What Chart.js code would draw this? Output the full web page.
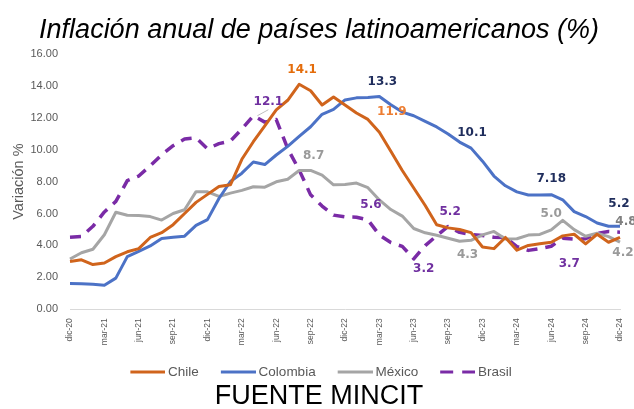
<!DOCTYPE html>
<html>
<head>
<meta charset="utf-8">
<script src="https://cdn.jsdelivr.net/npm/chart.js@4.4.1/dist/chart.umd.min.js"></script>
<style>
  html, body { margin: 0; padding: 0; background: #fff; }
  #wrap { width: 634px; height: 409px; }
</style>
</head>
<body>
<div id="wrap"><canvas id="chart" width="634" height="409"></canvas></div>
<script>
// Months (dic-20 .. dic-24)
const meses = [
  'dic-20', 'ene-21', 'feb-21', 'mar-21', 'abr-21', 'may-21', 'jun-21', 'jul-21', 'ago-21', 'sep-21', 'oct-21', 'nov-21',
  'dic-21', 'ene-22', 'feb-22', 'mar-22', 'abr-22', 'may-22', 'jun-22', 'jul-22', 'ago-22', 'sep-22', 'oct-22', 'nov-22',
  'dic-22', 'ene-23', 'feb-23', 'mar-23', 'abr-23', 'may-23', 'jun-23', 'jul-23', 'ago-23', 'sep-23', 'oct-23', 'nov-23',
  'dic-23', 'ene-24', 'feb-24', 'mar-24', 'abr-24', 'may-24', 'jun-24', 'jul-24', 'ago-24', 'sep-24', 'oct-24', 'nov-24',
  'dic-24'
];

// Annual inflation %
const chile = [
  3.0, 3.1, 2.8, 2.9, 3.3, 3.6, 3.8, 4.5, 4.8, 5.3, 6.0, 6.7,
  7.2, 7.7, 7.8, 9.4, 10.5, 11.5, 12.5, 13.1, 14.1, 13.7, 12.8, 13.3,
  12.8, 12.3, 11.9, 11.1, 9.9, 8.7, 7.6, 6.5, 5.3, 5.1, 5.0, 4.8,
  3.9, 3.8, 4.5, 3.7, 4.0, 4.1, 4.2, 4.6, 4.7, 4.1, 4.7, 4.2,
  4.5
];
const colombia = [
  1.61, 1.60, 1.56, 1.51, 1.95, 3.30, 3.63, 3.97, 4.44, 4.51, 4.58, 5.26,
  5.62, 6.94, 8.01, 8.53, 9.23, 9.07, 9.67, 10.21, 10.84, 11.44, 12.22, 12.53,
  13.12, 13.25, 13.28, 13.34, 12.82, 12.36, 12.13, 11.78, 11.43, 10.99, 10.48, 10.1,
  9.28, 8.35, 7.74, 7.36, 7.16, 7.16, 7.18, 6.86, 6.12, 5.81, 5.41, 5.20,
  5.20
];
const mexico = [
  3.15, 3.54, 3.76, 4.67, 6.08, 5.89, 5.88, 5.81, 5.59, 6.00, 6.24, 7.37,
  7.36, 7.07, 7.28, 7.45, 7.68, 7.65, 7.99, 8.15, 8.70, 8.70, 8.41, 7.80,
  7.82, 7.91, 7.62, 6.85, 6.25, 5.84, 5.06, 4.79, 4.64, 4.45, 4.26, 4.32,
  4.66, 4.88, 4.40, 4.42, 4.65, 4.69, 4.98, 5.57, 4.99, 4.58, 4.76, 4.55,
  4.21
];
const brasil = [
  4.52, 4.56, 5.20, 6.10, 6.76, 8.06, 8.35, 8.99, 9.68, 10.25, 10.67, 10.74,
  10.06, 10.38, 10.54, 11.30, 12.13, 11.73, 11.89, 10.07, 8.73, 7.17, 6.47, 5.90,
  5.79, 5.77, 5.60, 4.65, 4.18, 3.94, 3.16, 3.99, 4.61, 5.19, 4.82, 4.68,
  4.62, 4.51, 4.50, 3.93, 3.69, 3.80, 3.95, 4.45, 4.40, 4.42, 4.76, 4.87,
  4.83
];

const paises = ['Chile', 'Colombia', 'México', 'Brasil'];
const colores = ['#D0641C', '#4C72C6', '#A5A5A5', '#7A2BA6'];
const yTicks = [0, 2, 4, 6, 8, 10, 12, 14, 16];

// which points get a value label (series index, month index, decimals)
const etiquetas = [
  { s: 0, i: 20, d: 1, color: '#E46C0A', dx: 3, dy: -14 },
  { s: 0, i: 26, d: 1, color: '#ED7D31', dx: 24, dy: -8 },
  { s: 1, i: 27, d: 1, color: '#1F2D5C', dx: 3, dy: -15 },
  { s: 1, i: 35, d: 1, color: '#1F2D5C', dx: 1, dy: -15 },
  { s: 1, i: 42, d: 2, color: '#1F2D5C', dx: 0, dy: -16 },
  { s: 1, i: 48, d: 1, color: '#1F2D5C', dx: -1, dy: -22 },
  { s: 2, i: 21, d: 1, color: '#9A9A9A', dx: 3, dy: -15 },
  { s: 2, i: 34, d: 1, color: '#9A9A9A', dx: 8, dy: 14 },
  { s: 2, i: 42, d: 1, color: '#9A9A9A', dx: 0, dy: -16 },
  { s: 2, i: 48, d: 1, color: '#9A9A9A', dx: 3, dy: 11 },
  { s: 3, i: 16, d: 1, color: '#7030A0', dx: 15, dy: -14, leader: [4, 0, 15, -6] },
  { s: 3, i: 26, d: 1, color: '#7030A0', dx: 3, dy: -15 },
  { s: 3, i: 30, d: 1, color: '#7030A0', dx: 10, dy: 10 },
  { s: 3, i: 33, d: 1, color: '#7030A0', dx: 2, dy: -15 },
  { s: 3, i: 40, d: 1, color: '#7030A0', dx: 41, dy: 13 },
  { s: 3, i: 48, d: 1, color: '#808080', dx: 6, dy: -10 }
];

const FONT = '"Liberation Sans", Arial, sans-serif';
const GRIS = '#595959';

// little line samples for the legend (Brasil dashed); line sits at the right of the image
const muestras = colores.map((c, k) => {
  const cv = document.createElement('canvas');
  cv.width = 43; cv.height = 5;
  const g = cv.getContext('2d');
  g.strokeStyle = c;
  g.lineWidth = 3;
  if (k === 3) g.setLineDash([13, 9]);
  g.beginPath();
  g.moveTo(8, 2.5);
  g.lineTo(43, 2.5);
  g.stroke();
  return cv;
});

// draws the value labels next to the lines
const etiquetasPlugin = {
  id: 'etiquetas',
  afterDatasetsDraw(chart) {
    const ctx = chart.ctx;
    ctx.save();
    ctx.font = 'bold 12px "DejaVu Sans", Verdana, sans-serif';
    ctx.textAlign = 'center';
    ctx.textBaseline = 'middle';
    etiquetas.forEach(e => {
      const pt = chart.getDatasetMeta(e.s).data[e.i];
      const v = chart.data.datasets[e.s].data[e.i];
      if (e.leader) {
        ctx.strokeStyle = '#bfbfbf';
        ctx.lineWidth = 1;
        ctx.beginPath();
        ctx.moveTo(pt.x + e.leader[0], pt.y + e.leader[1]);
        ctx.lineTo(pt.x + e.leader[2], pt.y + e.leader[3]);
        ctx.stroke();
      }
      ctx.fillStyle = e.color;
      ctx.fillText(v.toFixed(e.d), pt.x + e.dx, pt.y + e.dy);
    });
    ctx.restore();
  }
};

new Chart(document.getElementById('chart'), {
  type: 'line',
  data: {
    labels: meses,
    datasets: [
      { label: paises[0], data: chile, borderColor: colores[0], backgroundColor: colores[0], borderWidth: 3 },
      { label: paises[1], data: colombia, borderColor: colores[1], backgroundColor: colores[1], borderWidth: 3 },
      { label: paises[2], data: mexico, borderColor: colores[2], backgroundColor: colores[2], borderWidth: 3 },
      { label: paises[3], data: brasil, borderColor: colores[3], backgroundColor: colores[3], borderWidth: 3.5, borderDash: [11, 8] }
    ]
  },
  options: {
    responsive: false,
    animation: false,
    layout: { padding: { left: 18, right: 14, top: 0, bottom: 0 } },
    elements: {
      point: { radius: 0 },
      line: { tension: 0, borderJoinStyle: 'round' }
    },
    scales: {
      x: {
        grid: { display: false, drawTicks: false },
        border: { display: true, color: '#d9d9d9', width: 1 },
        afterFit: axis => { axis.height = 38; axis.paddingLeft = 0; axis.paddingRight = 0; },
        ticks: {
          autoSkip: false, minRotation: 90, maxRotation: 90, padding: 9,
          color: GRIS, font: { family: FONT, size: 8.5 },
          callback: (v, i) => (i % 3 === 0 ? meses[i] : '')
        }
      },
      y: {
        min: yTicks[0], max: yTicks[yTicks.length - 1],
        grid: { display: false, drawTicks: false },
        border: { display: false },
        afterBuildTicks: axis => { axis.ticks = yTicks.map(v => ({ value: v })); },
        afterFit: axis => { axis.width = 52; },
        ticks: {
          padding: 12, color: GRIS, font: { family: FONT, size: 11 },
          callback: v => Number(v).toFixed(2)
        },
        title: {
          display: true, text: 'Variación %', color: GRIS,
          font: { family: FONT, size: 14.5 }, padding: { top: -8, bottom: 0 }
        }
      }
    },
    plugins: {
      title: {
        display: true, text: 'Inflación anual de países latinoamericanos (%)',
        color: '#000', font: { family: FONT, size: 27, style: 'italic', weight: 'normal' },
        padding: { top: 14, bottom: 7.6 }
      },
      subtitle: {
        display: true, position: 'bottom', text: 'FUENTE MINCIT',
        color: '#000', font: { family: FONT, size: 27, weight: 'normal', lineHeight: 1.1 },
        padding: { top: -7.45, bottom: -2 }
      },
      legend: {
        position: 'bottom',
        labels: {
          usePointStyle: true, pointStyleWidth: 35,
          color: GRIS, font: { family: FONT, size: 13.5 }, padding: 18,
          generateLabels: chart => {
            const items = Chart.defaults.plugins.legend.labels.generateLabels(chart);
            items.forEach((it, k) => { it.pointStyle = muestras[k]; });
            return items;
          }
        }
      },
      tooltip: { enabled: false }
    }
  },
  plugins: [etiquetasPlugin]
});
</script>
</body>
</html>
